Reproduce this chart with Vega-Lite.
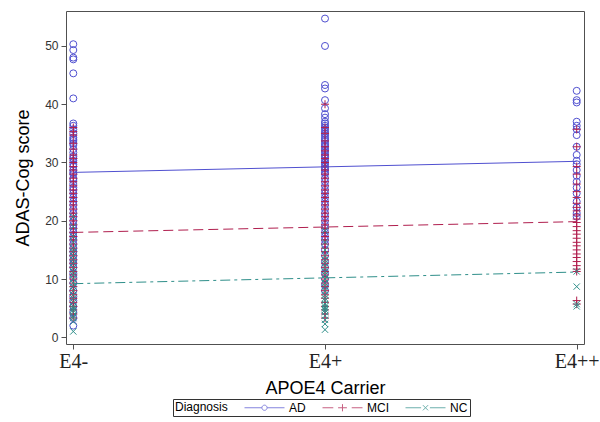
{
"$schema": "https://vega.github.io/schema/vega-lite/v6.json",
"width": 518, "height": 333,
"autosize": {"type": "none"},
"padding": {"left": 66, "top": 11, "right": 16, "bottom": 78},
"background": "white",
"config": {
  "view": {"stroke": "#505050", "strokeWidth": 1},
  "font": "Liberation Sans",
  "axis": {"grid": false, "domain": false, "tickColor": "#505050", "tickSize": 5, "titleFontWeight": "normal", "titleColor": "black", "titleFont": "Liberation Sans", "titleFontSize": 18}
},
"datasets": {
  "pts": [
{"x":0,"d":"AD","v":50.3},{"x":0,"d":"AD","v":49.3},{"x":0,"d":"AD","v":48},{"x":0,"d":"AD","v":47.7},{"x":0,"d":"AD","v":45.3},{"x":0,"d":"AD","v":41},{"x":0,"d":"AD","v":36.7},{"x":0,"d":"AD","v":36.3},{"x":0,"d":"AD","v":35.7},{"x":0,"d":"AD","v":35},{"x":0,"d":"AD","v":34.3},{"x":0,"d":"AD","v":34},{"x":0,"d":"AD","v":33.7},{"x":0,"d":"AD","v":33.3},{"x":0,"d":"AD","v":33},{"x":0,"d":"AD","v":32.3},{"x":0,"d":"AD","v":31.7},{"x":0,"d":"AD","v":31},{"x":0,"d":"AD","v":30.7},{"x":0,"d":"AD","v":30.3},{"x":0,"d":"AD","v":29.7},{"x":0,"d":"AD","v":29.3},{"x":0,"d":"AD","v":28.7},{"x":0,"d":"AD","v":28.3},{"x":0,"d":"AD","v":28},{"x":0,"d":"AD","v":27.3},{"x":0,"d":"AD","v":27},{"x":0,"d":"AD","v":26.3},{"x":0,"d":"AD","v":25.7},{"x":0,"d":"AD","v":25.3},{"x":0,"d":"AD","v":24.7},{"x":0,"d":"AD","v":24},{"x":0,"d":"AD","v":23.3},{"x":0,"d":"AD","v":22.7},{"x":0,"d":"AD","v":22},{"x":0,"d":"AD","v":21.3},{"x":0,"d":"AD","v":20.7},{"x":0,"d":"AD","v":20},{"x":0,"d":"AD","v":19.3},{"x":0,"d":"AD","v":18.7},{"x":0,"d":"AD","v":18},{"x":0,"d":"AD","v":17.3},{"x":0,"d":"AD","v":16.7},{"x":0,"d":"AD","v":16},{"x":0,"d":"AD","v":15.3},{"x":0,"d":"AD","v":14.7},{"x":0,"d":"AD","v":14},{"x":0,"d":"AD","v":13.3},{"x":0,"d":"AD","v":12.7},{"x":0,"d":"AD","v":12},{"x":0,"d":"AD","v":11},{"x":0,"d":"AD","v":10.3},{"x":0,"d":"AD","v":9.3},{"x":0,"d":"AD","v":8},{"x":0,"d":"AD","v":7},{"x":0,"d":"AD","v":6.3},{"x":0,"d":"AD","v":5.3},{"x":0,"d":"AD","v":4.3},{"x":0,"d":"AD","v":3.3},{"x":0,"d":"AD","v":2},
{"x":1,"d":"AD","v":54.7},{"x":1,"d":"AD","v":50},{"x":1,"d":"AD","v":43.3},{"x":1,"d":"AD","v":42.7},{"x":1,"d":"AD","v":40.7},{"x":1,"d":"AD","v":39.3},{"x":1,"d":"AD","v":38.3},{"x":1,"d":"AD","v":37.7},{"x":1,"d":"AD","v":37},{"x":1,"d":"AD","v":36.7},{"x":1,"d":"AD","v":36.3},{"x":1,"d":"AD","v":36},{"x":1,"d":"AD","v":35.7},{"x":1,"d":"AD","v":35.3},{"x":1,"d":"AD","v":35},{"x":1,"d":"AD","v":34.7},{"x":1,"d":"AD","v":34.3},{"x":1,"d":"AD","v":34},{"x":1,"d":"AD","v":33.7},{"x":1,"d":"AD","v":33.3},{"x":1,"d":"AD","v":33},{"x":1,"d":"AD","v":32.7},{"x":1,"d":"AD","v":32.3},{"x":1,"d":"AD","v":32},{"x":1,"d":"AD","v":31.7},{"x":1,"d":"AD","v":31.3},{"x":1,"d":"AD","v":31},{"x":1,"d":"AD","v":30.7},{"x":1,"d":"AD","v":30.3},{"x":1,"d":"AD","v":30},{"x":1,"d":"AD","v":29.7},{"x":1,"d":"AD","v":29.3},{"x":1,"d":"AD","v":29},{"x":1,"d":"AD","v":28.7},{"x":1,"d":"AD","v":28.3},{"x":1,"d":"AD","v":28},{"x":1,"d":"AD","v":27.3},{"x":1,"d":"AD","v":26.7},{"x":1,"d":"AD","v":26},{"x":1,"d":"AD","v":25.3},{"x":1,"d":"AD","v":24.7},{"x":1,"d":"AD","v":24},{"x":1,"d":"AD","v":23.3},{"x":1,"d":"AD","v":22.7},{"x":1,"d":"AD","v":22},{"x":1,"d":"AD","v":21.3},{"x":1,"d":"AD","v":20.7},{"x":1,"d":"AD","v":20},{"x":1,"d":"AD","v":19.3},{"x":1,"d":"AD","v":18.7},{"x":1,"d":"AD","v":18},{"x":1,"d":"AD","v":17.3},{"x":1,"d":"AD","v":16.7},{"x":1,"d":"AD","v":16},{"x":1,"d":"AD","v":15},{"x":1,"d":"AD","v":14},{"x":1,"d":"AD","v":13},{"x":1,"d":"AD","v":12},{"x":1,"d":"AD","v":11},{"x":1,"d":"AD","v":10},{"x":1,"d":"AD","v":9},{"x":1,"d":"AD","v":8},
{"x":2,"d":"AD","v":42.3},{"x":2,"d":"AD","v":40.7},{"x":2,"d":"AD","v":40.3},{"x":2,"d":"AD","v":37},{"x":2,"d":"AD","v":36.3},{"x":2,"d":"AD","v":35.7},{"x":2,"d":"AD","v":34.7},{"x":2,"d":"AD","v":32.7},{"x":2,"d":"AD","v":31.3},{"x":2,"d":"AD","v":30.3},{"x":2,"d":"AD","v":29.7},{"x":2,"d":"AD","v":28.7},{"x":2,"d":"AD","v":27.7},{"x":2,"d":"AD","v":26.7},{"x":2,"d":"AD","v":25.7},{"x":2,"d":"AD","v":24.7},{"x":2,"d":"AD","v":23.3},{"x":2,"d":"AD","v":22.3},{"x":2,"d":"AD","v":21.3},{"x":2,"d":"AD","v":20.7},
{"x":0,"d":"MCI","v":36},{"x":0,"d":"MCI","v":35.3},{"x":0,"d":"MCI","v":34.7},{"x":0,"d":"MCI","v":33.3},{"x":0,"d":"MCI","v":32.3},{"x":0,"d":"MCI","v":31.3},{"x":0,"d":"MCI","v":30.7},{"x":0,"d":"MCI","v":30},{"x":0,"d":"MCI","v":29.3},{"x":0,"d":"MCI","v":28.7},{"x":0,"d":"MCI","v":28},{"x":0,"d":"MCI","v":27.3},{"x":0,"d":"MCI","v":26.7},{"x":0,"d":"MCI","v":26},{"x":0,"d":"MCI","v":25.3},{"x":0,"d":"MCI","v":24.7},{"x":0,"d":"MCI","v":24},{"x":0,"d":"MCI","v":23.3},{"x":0,"d":"MCI","v":22.7},{"x":0,"d":"MCI","v":22},{"x":0,"d":"MCI","v":21.3},{"x":0,"d":"MCI","v":20.7},{"x":0,"d":"MCI","v":20},{"x":0,"d":"MCI","v":19.3},{"x":0,"d":"MCI","v":18.7},{"x":0,"d":"MCI","v":18},{"x":0,"d":"MCI","v":17.3},{"x":0,"d":"MCI","v":16.7},{"x":0,"d":"MCI","v":16},{"x":0,"d":"MCI","v":15.3},{"x":0,"d":"MCI","v":14.7},{"x":0,"d":"MCI","v":14},{"x":0,"d":"MCI","v":13.3},{"x":0,"d":"MCI","v":12.7},{"x":0,"d":"MCI","v":12},{"x":0,"d":"MCI","v":11.3},{"x":0,"d":"MCI","v":10.7},{"x":0,"d":"MCI","v":10},{"x":0,"d":"MCI","v":9.3},{"x":0,"d":"MCI","v":8.7},{"x":0,"d":"MCI","v":8},{"x":0,"d":"MCI","v":7.3},{"x":0,"d":"MCI","v":6.7},{"x":0,"d":"MCI","v":6},{"x":0,"d":"MCI","v":5.3},{"x":0,"d":"MCI","v":4.7},{"x":0,"d":"MCI","v":4},{"x":0,"d":"MCI","v":3.3},
{"x":1,"d":"MCI","v":40},{"x":1,"d":"MCI","v":36},{"x":1,"d":"MCI","v":35},{"x":1,"d":"MCI","v":33.7},{"x":1,"d":"MCI","v":32.7},{"x":1,"d":"MCI","v":32},{"x":1,"d":"MCI","v":31.3},{"x":1,"d":"MCI","v":30.7},{"x":1,"d":"MCI","v":30},{"x":1,"d":"MCI","v":29.3},{"x":1,"d":"MCI","v":28.7},{"x":1,"d":"MCI","v":28},{"x":1,"d":"MCI","v":27.3},{"x":1,"d":"MCI","v":26.7},{"x":1,"d":"MCI","v":26},{"x":1,"d":"MCI","v":25.3},{"x":1,"d":"MCI","v":24.7},{"x":1,"d":"MCI","v":24},{"x":1,"d":"MCI","v":23.3},{"x":1,"d":"MCI","v":22.7},{"x":1,"d":"MCI","v":22},{"x":1,"d":"MCI","v":21.3},{"x":1,"d":"MCI","v":20.7},{"x":1,"d":"MCI","v":20},{"x":1,"d":"MCI","v":19.3},{"x":1,"d":"MCI","v":18.7},{"x":1,"d":"MCI","v":18},{"x":1,"d":"MCI","v":17.3},{"x":1,"d":"MCI","v":16.7},{"x":1,"d":"MCI","v":16},{"x":1,"d":"MCI","v":15.3},{"x":1,"d":"MCI","v":14.7},{"x":1,"d":"MCI","v":14},{"x":1,"d":"MCI","v":13.3},{"x":1,"d":"MCI","v":12.7},{"x":1,"d":"MCI","v":12},{"x":1,"d":"MCI","v":11.3},{"x":1,"d":"MCI","v":10.7},{"x":1,"d":"MCI","v":10},{"x":1,"d":"MCI","v":9.3},{"x":1,"d":"MCI","v":8.7},{"x":1,"d":"MCI","v":8},{"x":1,"d":"MCI","v":7.3},{"x":1,"d":"MCI","v":6.7},{"x":1,"d":"MCI","v":6},{"x":1,"d":"MCI","v":5.3},{"x":1,"d":"MCI","v":4.7},{"x":1,"d":"MCI","v":4},{"x":1,"d":"MCI","v":3.3},
{"x":2,"d":"MCI","v":35.7},{"x":2,"d":"MCI","v":32.7},{"x":2,"d":"MCI","v":29.3},{"x":2,"d":"MCI","v":28},{"x":2,"d":"MCI","v":26.3},{"x":2,"d":"MCI","v":25},{"x":2,"d":"MCI","v":24},{"x":2,"d":"MCI","v":23},{"x":2,"d":"MCI","v":22.3},{"x":2,"d":"MCI","v":21.7},{"x":2,"d":"MCI","v":21},{"x":2,"d":"MCI","v":20.3},{"x":2,"d":"MCI","v":19.7},{"x":2,"d":"MCI","v":19},{"x":2,"d":"MCI","v":18.3},{"x":2,"d":"MCI","v":17.7},{"x":2,"d":"MCI","v":17},{"x":2,"d":"MCI","v":16.3},{"x":2,"d":"MCI","v":15.7},{"x":2,"d":"MCI","v":15},{"x":2,"d":"MCI","v":14.3},{"x":2,"d":"MCI","v":13.7},{"x":2,"d":"MCI","v":13},{"x":2,"d":"MCI","v":12.3},{"x":2,"d":"MCI","v":11.7},{"x":2,"d":"MCI","v":11.3},{"x":2,"d":"MCI","v":6.3},{"x":2,"d":"MCI","v":5.7},
{"x":0,"d":"NC","v":20.7},{"x":0,"d":"NC","v":19},{"x":0,"d":"NC","v":17.3},{"x":0,"d":"NC","v":16.3},{"x":0,"d":"NC","v":15.3},{"x":0,"d":"NC","v":14.7},{"x":0,"d":"NC","v":14},{"x":0,"d":"NC","v":13.3},{"x":0,"d":"NC","v":12.7},{"x":0,"d":"NC","v":12},{"x":0,"d":"NC","v":11.3},{"x":0,"d":"NC","v":10.7},{"x":0,"d":"NC","v":10},{"x":0,"d":"NC","v":9.3},{"x":0,"d":"NC","v":8.7},{"x":0,"d":"NC","v":8},{"x":0,"d":"NC","v":7.3},{"x":0,"d":"NC","v":6.7},{"x":0,"d":"NC","v":6},{"x":0,"d":"NC","v":5.3},{"x":0,"d":"NC","v":5},{"x":0,"d":"NC","v":4.7},{"x":0,"d":"NC","v":4.3},{"x":0,"d":"NC","v":3.7},{"x":0,"d":"NC","v":3.3},{"x":0,"d":"NC","v":2.7},{"x":0,"d":"NC","v":1},
{"x":1,"d":"NC","v":18.3},{"x":1,"d":"NC","v":16.3},{"x":1,"d":"NC","v":15},{"x":1,"d":"NC","v":14},{"x":1,"d":"NC","v":13.3},{"x":1,"d":"NC","v":12.7},{"x":1,"d":"NC","v":12},{"x":1,"d":"NC","v":11.3},{"x":1,"d":"NC","v":10.7},{"x":1,"d":"NC","v":10},{"x":1,"d":"NC","v":9.3},{"x":1,"d":"NC","v":8.7},{"x":1,"d":"NC","v":8},{"x":1,"d":"NC","v":7.3},{"x":1,"d":"NC","v":6.7},{"x":1,"d":"NC","v":6.3},{"x":1,"d":"NC","v":5.7},{"x":1,"d":"NC","v":5.3},{"x":1,"d":"NC","v":5},{"x":1,"d":"NC","v":4.7},{"x":1,"d":"NC","v":4.3},{"x":1,"d":"NC","v":3.7},{"x":1,"d":"NC","v":3},{"x":1,"d":"NC","v":2.3},{"x":1,"d":"NC","v":1.3},
{"x":2,"d":"NC","v":11.3},{"x":2,"d":"NC","v":8.7},{"x":2,"d":"NC","v":5.7},{"x":2,"d":"NC","v":5.3}
  ],
  "fit": [
{"x":0,"d":"AD","v":28.3},{"x":2,"d":"AD","v":30.2},
{"x":0,"d":"MCI","v":18.0},{"x":2,"d":"MCI","v":19.85},
{"x":0,"d":"NC","v":9.2},{"x":2,"d":"NC","v":11.2}
  ],
  "note": [{"label":"p=0.007"}]
},
"encoding": {
  "x": {"field": "x", "type": "quantitative", "scale": {"domain": [-0.029, 2.029], "nice": false, "zero": false},
        "axis": {"values": [0, 1, 2], "labelExpr": "datum.value == 0 ? 'E4-' : datum.value == 1 ? 'E4+' : 'E4++'",
                 "labelFont": "Liberation Serif", "labelFontSize": 20, "labelColor": "#222", "labelPadding": 2,
                 "title": "APOE4 Carrier", "titlePadding": 8}},
  "y": {"field": "v", "type": "quantitative", "scale": {"domain": [-1.15, 56], "nice": false, "zero": false},
        "axis": {"values": [0, 10, 20, 30, 40, 50], "labelFontSize": 12, "labelColor": "#333", "labelPadding": 3,
                 "title": "ADAS-Cog score", "titlePadding": 12}},
  "color": {"field": "d", "type": "nominal", "scale": {"domain": ["AD", "MCI", "NC"], "range": ["#5050d0", "#b01e4e", "#2f8f8a"]},
            "legend": {"orient": "none", "legendX": 107, "legendY": 388, "direction": "horizontal", "columns": 3,
                       "title": "Diagnosis", "titleOrient": "left", "titleFontSize": 12, "titleFontWeight": "normal", "titleColor": "black", "titlePadding": 16,
                       "titleAnchor": "middle", "titleBaseline": "middle",
                       "labelFontSize": 12, "labelColor": "black", "labelOffset": 32, "columnPadding": 14,
                       "symbolSize": 144, "symbolStrokeWidth": 1, "symbolFillColor": "transparent", "strokeColor": "#333", "padding": 2, "rowPadding": 0}}
},
"layer": [
  {
    "data": {"name": "fit"},
    "mark": {"type": "point", "filled": false, "strokeWidth": 1, "size": 0},
    "encoding": {
      "shape": {"field": "d", "type": "nominal", "scale": {"domain": ["AD", "MCI", "NC"], "range": [
        "M-1,0H1.9M2.767,0H5.667M2.767,0A0.433,0.433 0 1 1 1.9,0A0.433,0.433 0 1 1 2.767,0",
        "M-1,0H0.8M1.6,0H3.07M3.87,0H5.667M2.333,-0.6V0.6",
        "M-1,0H1.6M3.07,0H5.667M1.9,-0.433L2.767,0.433M1.9,0.433L2.767,-0.433"]}}
    }
  },
  {
    "data": {"name": "pts"},
    "transform": [{"filter": "datum.d == 'AD'"}],
    "mark": {"type": "point", "filled": false, "strokeWidth": 1, "opacity": 1, "size": 49, "shape": "circle"}
  },
  {
    "data": {"name": "pts"},
    "transform": [{"filter": "datum.d == 'MCI'"}],
    "mark": {"type": "point", "filled": false, "strokeWidth": 1, "opacity": 1, "size": 49, "shape": "M-1.15,0H1.15M0,-1.15V1.15"}
  },
  {
    "data": {"name": "pts"},
    "transform": [{"filter": "datum.d == 'NC'"}],
    "mark": {"type": "point", "filled": false, "strokeWidth": 1, "opacity": 1, "size": 49, "shape": "M-0.9,-0.9L0.9,0.9M-0.9,0.9L0.9,-0.9"}
  },
  {
    "data": {"name": "fit"},
    "transform": [{"filter": "datum.d == 'AD'"}],
    "mark": {"type": "line", "strokeWidth": 1}
  },
  {
    "data": {"name": "fit"},
    "transform": [{"filter": "datum.d == 'MCI'"}],
    "mark": {"type": "line", "strokeWidth": 1, "strokeDash": [10, 5]}
  },
  {
    "data": {"name": "fit"},
    "transform": [{"filter": "datum.d == 'NC'"}],
    "mark": {"type": "line", "strokeWidth": 1, "strokeDash": [10, 4, 3, 4]}
  },
  {
    "data": {"name": "note"},
    "mark": {"type": "rect", "fill": "white", "stroke": "#333", "strokeWidth": 1},
    "encoding": {
      "x": {"datum": 1.516, "type": "quantitative"},
      "x2": {"datum": 1.906},
      "y": {"datum": 49.3, "type": "quantitative"},
      "y2": {"datum": 54.9},
      "color": null
    }
  },
  {
    "data": {"name": "note"},
    "mark": {"type": "text", "fontSize": 18, "font": "Liberation Sans", "color": "black", "align": "center", "baseline": "middle"},
    "encoding": {
      "x": {"datum": 1.711, "type": "quantitative"},
      "y": {"datum": 52.1, "type": "quantitative"},
      "text": {"field": "label"},
      "color": null
    }
  }
]
}
